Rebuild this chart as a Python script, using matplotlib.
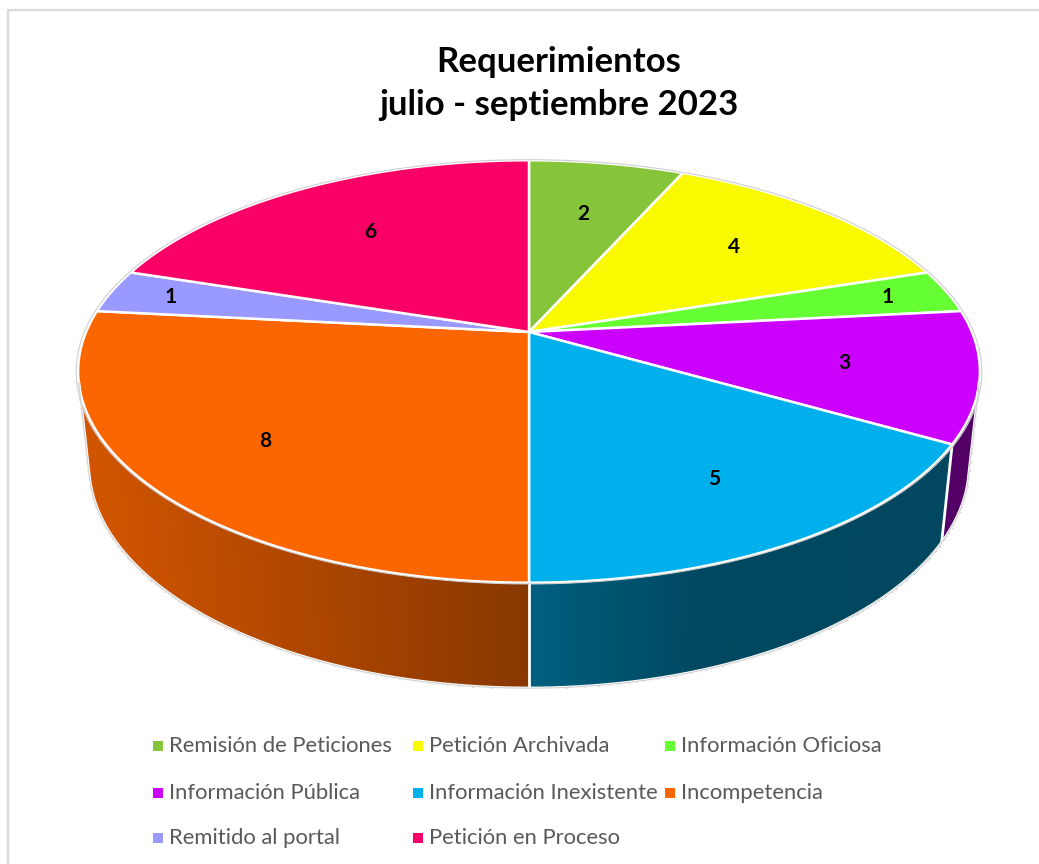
import numpy as np
import matplotlib.pyplot as plt
from matplotlib.patches import Polygon
from matplotlib.colors import to_rgb

plt.rcParams['font.family'] = ['Lato', 'DejaVu Sans']

# Data
categories = ['Remisión de Peticiones', 'Petición Archivada', 'Información Oficiosa',
              'Información Pública', 'Información Inexistente', 'Incompetencia',
              'Remitido al portal', 'Petición en Proceso']
values = [2, 4, 1, 3, 5, 8, 1, 6]
colors = ['#86C43A', '#F9F900', '#66FF33', '#CC00FF', '#00B0EC', '#FC6600', '#9999FF', '#FA0066']
title_lines = ['Requerimientos', 'julio - septiembre 2023']

# 3D pie camera (pixel space)
CX, CY = 529, 332
F = 2104.0
L = 4.75
ALPHA = np.radians(27.4)
H = 0.239


def project(theta, r=1.0, z=0.0):
    X = r * np.sin(theta)
    Y = r * np.cos(theta)
    d = L + Y * np.cos(ALPHA) - z * np.sin(ALPHA)
    u = CX + F * X / d
    v = CY - F * (Y * np.sin(ALPHA) + z * np.cos(ALPHA)) / d
    return u, v


def shade(u):
    return np.interp(u, [88, 529, 700, 980], [0.83, 0.54, 0.41, 0.40])


fig = plt.figure(figsize=(10.39, 8.64), dpi=100)
ax = fig.add_axes([0, 0, 1, 1])
ax.set_xlim(0, 1039)
ax.set_ylim(864, 0)
ax.axis('off')

# chart frame
ax.plot([8, 8, 1045], [870, 10, 10], color='#D9D9D9', lw=1.6, solid_joinstyle='miter')

total = sum(values)
edges = np.concatenate([[0], np.cumsum(values)]) / total * 2 * np.pi
vis0 = np.arccos(-1 / (L * np.cos(ALPHA)))
vis1 = 2 * np.pi - vis0

# side walls (only the part facing the camera)
for i, col in enumerate(colors):
    a0, a1 = max(edges[i], vis0), min(edges[i + 1], vis1)
    if a1 <= a0:
        continue
    t = np.linspace(a0, a1, max(int(np.degrees(a1 - a0)) * 2, 2))
    ut, vt = project(t)
    ub, vb = project(t, z=-H)
    base = np.array(to_rgb(col))
    for k in range(len(t) - 1):
        quad = [(ut[k], vt[k]), (ut[k + 1], vt[k + 1]), (ub[k + 1], vb[k + 1]), (ub[k], vb[k])]
        c = np.clip(base * shade((ut[k] + ut[k + 1]) / 2), 0, 1)
        ax.add_patch(Polygon(quad, closed=True, facecolor=c, edgecolor=c, lw=1.0,
                             antialiased=False))

# white edges on walls between slices
for a in edges[1:-1]:
    if vis0 < a < vis1:
        u0, v0 = project(a)
        u1, v1 = project(a, z=-H)
        ax.plot([u0, u1], [v0, v1], color='white', lw=2)

# wall outline
t = np.linspace(vis0, vis1, 300)
ub, vb = project(t, z=-H)
ut0, vt0 = project(vis0)
ut1, vt1 = project(vis1)
ax.plot(np.r_[ut0, ub, ut1], np.r_[vt0, vb, vt1], color='white', lw=2.2)
ax.plot(np.r_[ut0, ub, ut1], np.r_[vt0, vb, vt1], color='#D0D0D0', lw=0.8)

# top face
for i, col in enumerate(colors):
    t = np.linspace(edges[i], edges[i + 1], max(int(np.degrees(edges[i + 1] - edges[i])) * 2, 2))
    u, v = project(t)
    pts = [(CX, CY)] + list(zip(u, v))
    ax.add_patch(Polygon(pts, closed=True, facecolor=col, edgecolor='white', lw=1.8,
                         joinstyle='round'))

t = np.linspace(0, 2 * np.pi, 400)
u, v = project(t, r=1.004)
ax.plot(u, v, color='#D0D0D0', lw=0.8)

# data labels
for i, val in enumerate(values):
    mid = (edges[i] + edges[i + 1]) / 2
    ur, vr = project(mid)
    f = 0.86 if val == 1 else 0.7
    ax.text(CX + f * (ur - CX), CY + f * (vr - CY), str(val), ha='center', va='center',
            fontsize=15, fontweight='bold', color='black')

# title
for line, y in zip(title_lines, [62, 105]):
    ax.text(559, y, line, ha='center', va='center', fontsize=25, fontweight='bold',
            color='black')

# legend, row-major in three columns
col_x = [158, 418, 670]
row_y = [746, 793, 838]
for i, (name, col) in enumerate(zip(categories, colors)):
    x = col_x[i % 3]
    y = row_y[i // 3]
    ax.scatter([x], [y], marker='s', s=42, color=col, linewidths=0)
    ax.text(x + 11, y, name, ha='left', va='center', fontsize=15.8, color='#595959')

fig.savefig('out.png', dpi=100)
